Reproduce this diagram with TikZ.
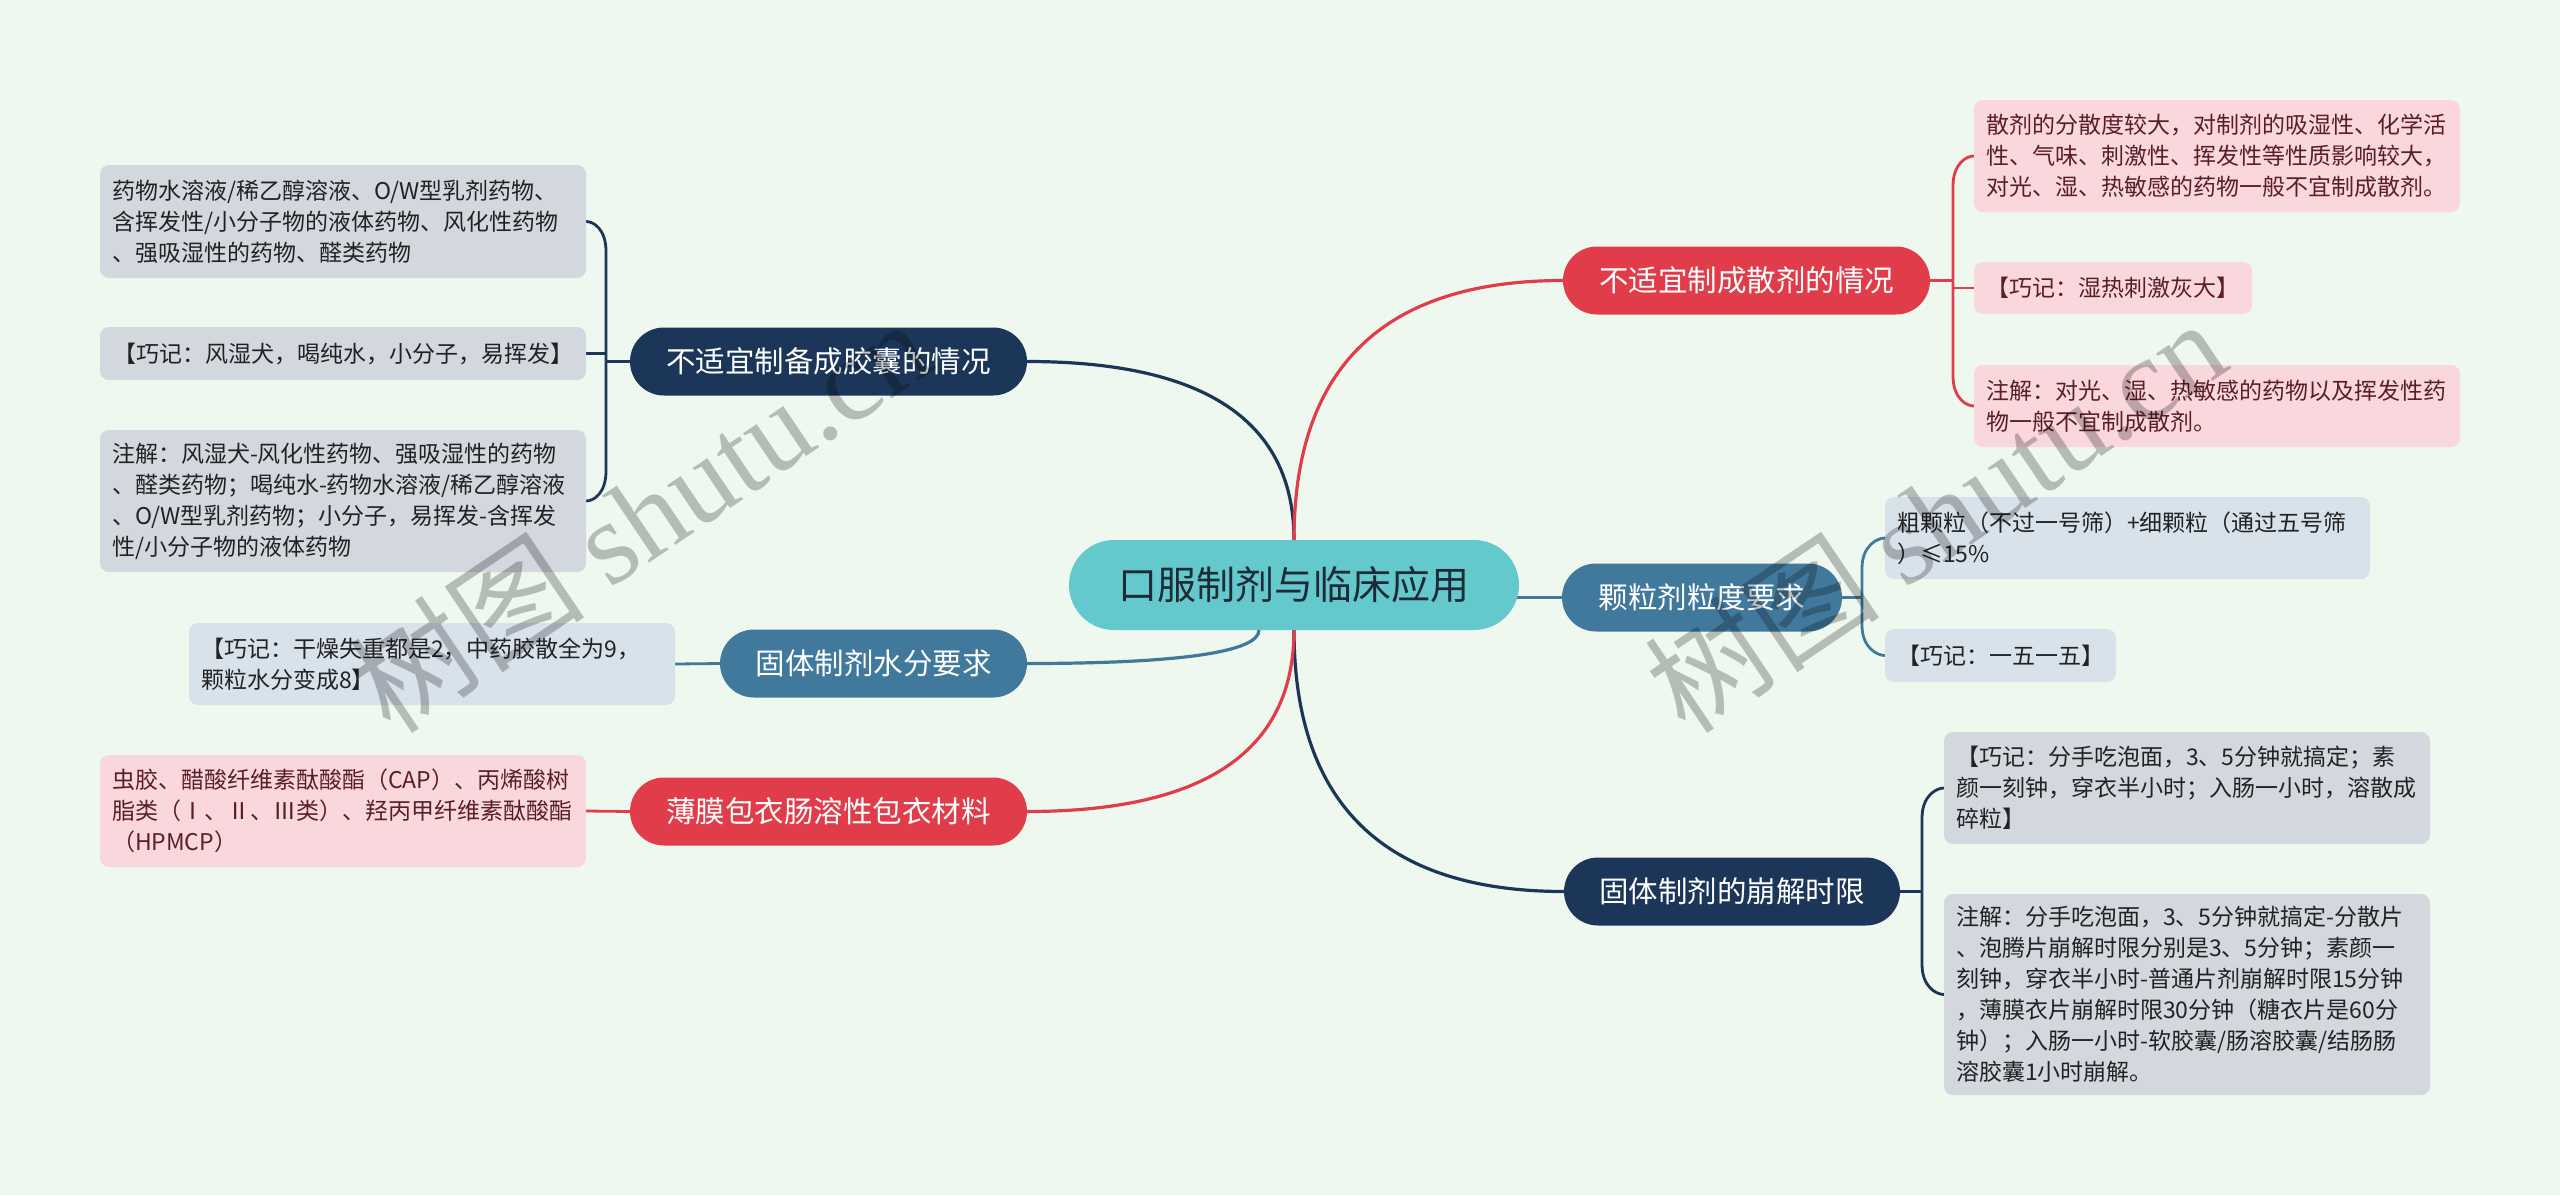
\documentclass[tikz,border=0pt]{standalone}
\usepackage{fontspec}
\setmainfont{Noto Sans CJK SC}
\newfontfamily\wmlatin{Liberation Serif}
\usetikzlibrary{calc}
\pgfdeclarelayer{back}
\pgfsetlayers{back,main}
\definecolor{cBg}{HTML}{EFF8EE}
\definecolor{cTeal}{HTML}{64C9CD}
\definecolor{cCenterText}{HTML}{1E2A35}
\definecolor{cNavy}{HTML}{1C3659}
\definecolor{cSteel}{HTML}{41799D}
\definecolor{cRed}{HTML}{E13C4A}
\definecolor{cPink}{HTML}{F9D7DC}
\definecolor{cPinkText}{HTML}{5A1F24}
\definecolor{cGray}{HTML}{D3D8DF}
\definecolor{cBlueGray}{HTML}{D8E2EA}
\definecolor{cDark}{HTML}{222222}
\begin{document}
\begin{tikzpicture}[x=1pt,y=-1pt,
  every node/.style={inner sep=0pt, outer sep=0pt},
  topic/.style={rounded corners=34pt, minimum height=68pt, text=white,
    font=\fontsize{29.5}{34}\selectfont},
  leaf/.style={rounded corners=9pt, anchor=north west, inner xsep=12pt,
    inner ysep=0pt, align=left, font=\fontsize{23}{31}\selectfont},
  grayleaf/.style={leaf, fill=cGray, text=cDark},
  blueleaf/.style={leaf, fill=cBlueGray, text=cDark},
  pinkleaf/.style={leaf, fill=cPink, text=cPinkText},
  mainline/.style={line width=3.2pt},
  brk/.style={line width=2.8pt},
  wm/.style={rotate=34, text=black, opacity=0.24, font=\fontsize{118}{125}\selectfont}
]
\begin{pgfonlayer}{back}
\fill[cBg] (0,0) rectangle (2560,1195);
\end{pgfonlayer}
\useasboundingbox (0,0) rectangle (2560,1195);

% center
\node[fill=cTeal, rounded corners=45pt, minimum width=450pt, minimum height=90pt,
  text=cCenterText, font=\fontsize{39}{44}\selectfont] (C) at (1294,585) {口服制剂与临床应用};

% topics
\node[topic, fill=cNavy, minimum width=397pt] (B1) at (828.5,361.5) {不适宜制备成胶囊的情况};
\node[topic, fill=cSteel, minimum width=307pt] (B2) at (873.5,663.5) {固体制剂水分要求};
\node[topic, fill=cRed, minimum width=397pt] (B3) at (828.5,811.5) {薄膜包衣肠溶性包衣材料};
\node[topic, fill=cRed, minimum width=367pt] (R1) at (1746.5,280.5) {不适宜制成散剂的情况};
\node[topic, fill=cSteel, minimum width=280pt] (R2) at (1702,597.5) {颗粒剂粒度要求};
\node[topic, fill=cNavy, minimum width=336pt] (R3) at (1732,891.5) {固体制剂的崩解时限};

% left leaves
\node[grayleaf, text width=462pt, minimum height=113pt] (L1) at (100,165)
  {药物水溶液/稀乙醇溶液、O/W型乳剂药物、\\含挥发性/小分子物的液体药物、风化性药物\\、强吸湿性的药物、醛类药物};
\node[grayleaf, minimum width=486pt, minimum height=53pt] (L2) at (100,327)
  {【巧记：风湿犬，喝纯水，小分子，易挥发】};
\node[grayleaf, text width=462pt, minimum height=142pt] (L3) at (100,430)
  {注解：风湿犬-风化性药物、强吸湿性的药物\\、醛类药物；喝纯水-药物水溶液/稀乙醇溶液\\、O/W型乳剂药物；小分子，易挥发-含挥发\\性/小分子物的液体药物};
\node[blueleaf, text width=462pt, minimum height=82pt] (M1) at (189,623)
  {【巧记：干燥失重都是2，中药胶散全为9，\\颗粒水分变成8】};
\node[pinkleaf, text width=462pt, minimum height=112pt] (N1) at (100,755)
  {虫胶、醋酸纤维素酞酸酯（CAP）、丙烯酸树\\脂类（Ⅰ、Ⅱ、Ⅲ类）、羟丙甲纤维素酞酸酯\\（HPMCP）};

% right leaves
\node[pinkleaf, text width=462pt, minimum height=112pt] (P1) at (1974,100)
  {散剂的分散度较大，对制剂的吸湿性、化学活\\性、气味、刺激性、挥发性等性质影响较大，\\对光、湿、热敏感的药物一般不宜制成散剂。};
\node[pinkleaf, minimum width=278pt, minimum height=52pt] (P2) at (1974,262)
  {【巧记：湿热刺激灰大】};
\node[pinkleaf, text width=462pt, minimum height=82pt] (P3) at (1974,365)
  {注解：对光、湿、热敏感的药物以及挥发性药\\物一般不宜制成散剂。};
\node[blueleaf, text width=461pt, minimum height=82pt] (Q1) at (1885,497)
  {粗颗粒（不过一号筛）+细颗粒（通过五号筛\\）≤15\%};
\node[blueleaf, minimum width=231pt, minimum height=53pt] (Q2) at (1885,629)
  {【巧记：一五一五】};
\node[grayleaf, text width=462pt, minimum height=112pt] (G1) at (1944,732)
  {【巧记：分手吃泡面，3、5分钟就搞定；素\\颜一刻钟，穿衣半小时；入肠一小时，溶散成\\碎粒】};
\node[grayleaf, text width=462pt, minimum height=201pt] (G2) at (1944,894)
  {注解：分手吃泡面，3、5分钟就搞定-分散片\\、泡腾片崩解时限分别是3、5分钟；素颜一\\刻钟，穿衣半小时-普通片剂崩解时限15分钟\\，薄膜衣片崩解时限30分钟（糖衣片是60分\\钟）；入肠一小时-软胶囊/肠溶胶囊/结肠肠\\溶胶囊1小时崩解。};

\coordinate (jB1) at ($(B1.west)+(-24,0)$);
\coordinate (jR1) at ($(R1.east)+(23,0)$);
\coordinate (jR2) at ($(R2.east)+(20,0)$);
\coordinate (jR3) at ($(R3.east)+(22,0)$);

\begin{pgfonlayer}{back}
% main curves
\draw[mainline, cNavy] (B1.east) .. controls (1205,361.5) and (1294,421) .. (C.north);
\draw[mainline, cRed] (C.north) .. controls (1294,367) and (1384,280.5) .. (R1.west);
\draw[mainline, cSteel] (C.center |- R2.west) -- (R2.west);
\draw[mainline, cNavy] (C.south) .. controls (1294,804) and (1384,891.5) .. (R3.west);
\draw[mainline, cRed] (B3.east) .. controls (1205,811.5) and (1294,751) .. (C.south);
\draw[mainline, cSteel] (B2.east) .. controls (1180,663.5) and (1259,652) .. ($(C.south)+(-35,0)$);

% left brackets
\draw[brk, cNavy] (B1.west) -- (jB1);
\draw[brk, cNavy] (jB1) -- ($(jB1|-L1.east)+(0,30)$) .. controls ($(jB1|-L1.east)+(0,8)$) and ($(L1.east)+(8,0)$) .. (L1.east);
\draw[brk, cNavy] (jB1|-L2.east) -- (L2.east);
\draw[brk, cNavy] (jB1) -- ($(jB1|-L3.east)+(0,-30)$) .. controls ($(jB1|-L3.east)+(0,-8)$) and ($(L3.east)+(8,0)$) .. (L3.east);
\draw[brk, cSteel] (M1.east) -- (B2.west);
\draw[brk, cRed] (N1.east) -- (B3.west);

% right brackets
\draw[brk, cRed] (R1.east) -- (jR1);
\draw[brk, cRed] (jR1) -- ($(jR1|-P1.west)+(0,30)$) .. controls ($(jR1|-P1.west)+(0,8)$) and ($(P1.west)+(-8,0)$) .. (P1.west);
\draw[brk, cRed] (jR1|-P2.west) -- (P2.west);
\draw[brk, cRed] (jR1) -- ($(jR1|-P3.west)+(0,-30)$) .. controls ($(jR1|-P3.west)+(0,-8)$) and ($(P3.west)+(-8,0)$) .. (P3.west);

\draw[brk, cSteel] (R2.east) -- (jR2);
\draw[brk, cSteel] (jR2) -- ($(jR2|-Q1.west)+(0,30)$) .. controls ($(jR2|-Q1.west)+(0,8)$) and ($(Q1.west)+(-8,0)$) .. (Q1.west);
\draw[brk, cSteel] (jR2) -- ($(jR2|-Q2.west)+(0,-30)$) .. controls ($(jR2|-Q2.west)+(0,-8)$) and ($(Q2.west)+(-8,0)$) .. (Q2.west);

\draw[brk, cNavy] (R3.east) -- (jR3);
\draw[brk, cNavy] (jR3) -- ($(jR3|-G1.west)+(0,30)$) .. controls ($(jR3|-G1.west)+(0,8)$) and ($(G1.west)+(-8,0)$) .. (G1.west);
\draw[brk, cNavy] (jR3) -- ($(jR3|-G2.west)+(0,-30)$) .. controls ($(jR3|-G2.west)+(0,-8)$) and ($(G2.west)+(-8,0)$) .. (G2.west);
\end{pgfonlayer}

% watermarks
\node[wm] (W1) at (640,515) {树图 {\wmlatin shutu.cn}};
\node[wm] (W2) at (1935,515) {树图 {\wmlatin shutu.cn}};
\end{tikzpicture}
\end{document}
